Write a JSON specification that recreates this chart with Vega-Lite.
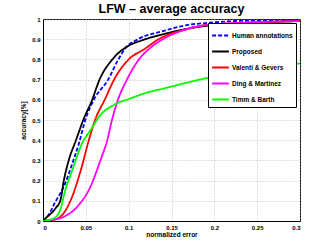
{
  "$schema": "https://vega.github.io/schema/vega-lite/v6.json",
  "width": 257,
  "height": 202,
  "autosize": {"type": "none"},
  "padding": {"left": 43, "top": 19, "right": 32, "bottom": 28},
  "background": "white",
  "title": {"text": "LFW – average accuracy", "font": "Liberation Sans", "fontSize": 12.5, "fontWeight": "bold", "color": "black", "anchor": "middle", "frame": "group", "baseline": "top", "offset": 1},
  "config": {
    "view": {"stroke": "black", "strokeWidth": 1},
    "axis": {
      "labelFont": "Liberation Sans", "labelFontSize": 6, "labelFontWeight": "bold", "labelColor": "black",
      "titleFont": "Liberation Sans", "titleFontSize": 6.5, "titleFontWeight": "bold", "titleColor": "black",
      "domainColor": "black", "ticks": false,
      "grid": true, "gridColor": "#b0b0b0", "gridDash": [1, 2], "gridWidth": 0.8
    },
    "legend": {
      "labelFont": "Liberation Sans", "labelFontSize": 6.5, "labelFontWeight": "bold", "labelColor": "black"
    }
  },
  "data": {"values": [
    {"s": "Human annotations", "x": 0, "y": 0},
    {"s": "Human annotations", "x": 0.005, "y": 0.021},
    {"s": "Human annotations", "x": 0.0146, "y": 0.096},
    {"s": "Human annotations", "x": 0.0263, "y": 0.19},
    {"s": "Human annotations", "x": 0.033, "y": 0.27},
    {"s": "Human annotations", "x": 0.042, "y": 0.385},
    {"s": "Human annotations", "x": 0.0496, "y": 0.503},
    {"s": "Human annotations", "x": 0.0593, "y": 0.6},
    {"s": "Human annotations", "x": 0.076, "y": 0.7},
    {"s": "Human annotations", "x": 0.088, "y": 0.8},
    {"s": "Human annotations", "x": 0.097, "y": 0.86},
    {"s": "Human annotations", "x": 0.111, "y": 0.9},
    {"s": "Human annotations", "x": 0.14, "y": 0.94},
    {"s": "Human annotations", "x": 0.168, "y": 0.97},
    {"s": "Human annotations", "x": 0.19, "y": 0.98},
    {"s": "Human annotations", "x": 0.225, "y": 0.99},
    {"s": "Human annotations", "x": 0.3, "y": 0.995},
    {"s": "Proposed", "x": 0, "y": 0},
    {"s": "Proposed", "x": 0.003, "y": 0.013},
    {"s": "Proposed", "x": 0.0146, "y": 0.063},
    {"s": "Proposed", "x": 0.0204, "y": 0.104},
    {"s": "Proposed", "x": 0.0243, "y": 0.2},
    {"s": "Proposed", "x": 0.03, "y": 0.3},
    {"s": "Proposed", "x": 0.0385, "y": 0.4},
    {"s": "Proposed", "x": 0.047, "y": 0.5},
    {"s": "Proposed", "x": 0.0574, "y": 0.6},
    {"s": "Proposed", "x": 0.066, "y": 0.7},
    {"s": "Proposed", "x": 0.081, "y": 0.8},
    {"s": "Proposed", "x": 0.1, "y": 0.868},
    {"s": "Proposed", "x": 0.116, "y": 0.895},
    {"s": "Proposed", "x": 0.144, "y": 0.929},
    {"s": "Proposed", "x": 0.183, "y": 0.962},
    {"s": "Proposed", "x": 0.24, "y": 0.98},
    {"s": "Proposed", "x": 0.3, "y": 0.99},
    {"s": "Valenti & Gevers", "x": 0, "y": 0},
    {"s": "Valenti & Gevers", "x": 0.0146, "y": 0.008},
    {"s": "Valenti & Gevers", "x": 0.024, "y": 0.038},
    {"s": "Valenti & Gevers", "x": 0.034, "y": 0.12},
    {"s": "Valenti & Gevers", "x": 0.044, "y": 0.25},
    {"s": "Valenti & Gevers", "x": 0.0535, "y": 0.4},
    {"s": "Valenti & Gevers", "x": 0.061, "y": 0.503},
    {"s": "Valenti & Gevers", "x": 0.072, "y": 0.6},
    {"s": "Valenti & Gevers", "x": 0.083, "y": 0.7},
    {"s": "Valenti & Gevers", "x": 0.1, "y": 0.8},
    {"s": "Valenti & Gevers", "x": 0.118, "y": 0.85},
    {"s": "Valenti & Gevers", "x": 0.135, "y": 0.9},
    {"s": "Valenti & Gevers", "x": 0.168, "y": 0.95},
    {"s": "Valenti & Gevers", "x": 0.19, "y": 0.97},
    {"s": "Valenti & Gevers", "x": 0.23, "y": 0.98},
    {"s": "Valenti & Gevers", "x": 0.3, "y": 0.99},
    {"s": "Ding & Martinez", "x": 0, "y": 0},
    {"s": "Ding & Martinez", "x": 0.009, "y": 0.005},
    {"s": "Ding & Martinez", "x": 0.0243, "y": 0.021},
    {"s": "Ding & Martinez", "x": 0.04, "y": 0.071},
    {"s": "Ding & Martinez", "x": 0.0554, "y": 0.17},
    {"s": "Ding & Martinez", "x": 0.067, "y": 0.3},
    {"s": "Ding & Martinez", "x": 0.075, "y": 0.4},
    {"s": "Ding & Martinez", "x": 0.0805, "y": 0.5},
    {"s": "Ding & Martinez", "x": 0.0875, "y": 0.6},
    {"s": "Ding & Martinez", "x": 0.098, "y": 0.7},
    {"s": "Ding & Martinez", "x": 0.112, "y": 0.8},
    {"s": "Ding & Martinez", "x": 0.126, "y": 0.86},
    {"s": "Ding & Martinez", "x": 0.14, "y": 0.9},
    {"s": "Ding & Martinez", "x": 0.168, "y": 0.95},
    {"s": "Ding & Martinez", "x": 0.19, "y": 0.97},
    {"s": "Ding & Martinez", "x": 0.225, "y": 0.98},
    {"s": "Ding & Martinez", "x": 0.3, "y": 0.99},
    {"s": "Timm & Barth", "x": 0, "y": 0},
    {"s": "Timm & Barth", "x": 0.0126, "y": 0.013},
    {"s": "Timm & Barth", "x": 0.02, "y": 0.054},
    {"s": "Timm & Barth", "x": 0.026, "y": 0.153},
    {"s": "Timm & Barth", "x": 0.034, "y": 0.25},
    {"s": "Timm & Barth", "x": 0.0457, "y": 0.385},
    {"s": "Timm & Barth", "x": 0.0554, "y": 0.45},
    {"s": "Timm & Barth", "x": 0.067, "y": 0.525},
    {"s": "Timm & Barth", "x": 0.0826, "y": 0.574},
    {"s": "Timm & Barth", "x": 0.102, "y": 0.607},
    {"s": "Timm & Barth", "x": 0.125, "y": 0.64},
    {"s": "Timm & Barth", "x": 0.14, "y": 0.655},
    {"s": "Timm & Barth", "x": 0.183, "y": 0.7},
    {"s": "Timm & Barth", "x": 0.245, "y": 0.75},
    {"s": "Timm & Barth", "x": 0.3, "y": 0.78}
  ]},
  "mark": {"type": "line", "strokeWidth": 1.8, "clip": true, "interpolate": "monotone"},
  "encoding": {
    "x": {"field": "x", "type": "quantitative", "title": "normalized error",
      "scale": {"domain": [0, 0.3], "nice": false},
      "axis": {"values": [0, 0.05, 0.1, 0.15, 0.2, 0.25, 0.3], "format": "~g", "titlePadding": 1, "labelPadding": 3}},
    "y": {"field": "y", "type": "quantitative", "title": "accuracy[%]",
      "scale": {"domain": [0, 1], "nice": false},
      "axis": {"values": [0, 0.1, 0.2, 0.3, 0.4, 0.5, 0.6, 0.7, 0.8, 0.9, 1], "format": "~g", "titlePadding": 5, "labelPadding": 3}},
    "color": {"field": "s", "type": "nominal", "title": null,
      "scale": {"domain": ["Human annotations", "Proposed", "Valenti & Gevers", "Ding & Martinez", "Timm & Barth"],
        "range": ["#0000ff", "#000000", "#ff0000", "#ff00ff", "#00ff00"]},
      "legend": {"orient": "none", "legendX": 165, "legendY": 4, "fillColor": "white", "strokeColor": "black", "padding": 3,
        "symbolType": "stroke", "symbolSize": 280, "symbolStrokeWidth": 2, "rowPadding": 2, "labelOffset": 2}},
    "strokeDash": {"field": "s", "type": "nominal",
      "scale": {"domain": ["Human annotations", "Proposed", "Valenti & Gevers", "Ding & Martinez", "Timm & Barth"],
        "range": [[4, 2], [1, 0], [1, 0], [1, 0], [1, 0]]},
      "legend": null}
  }
}
